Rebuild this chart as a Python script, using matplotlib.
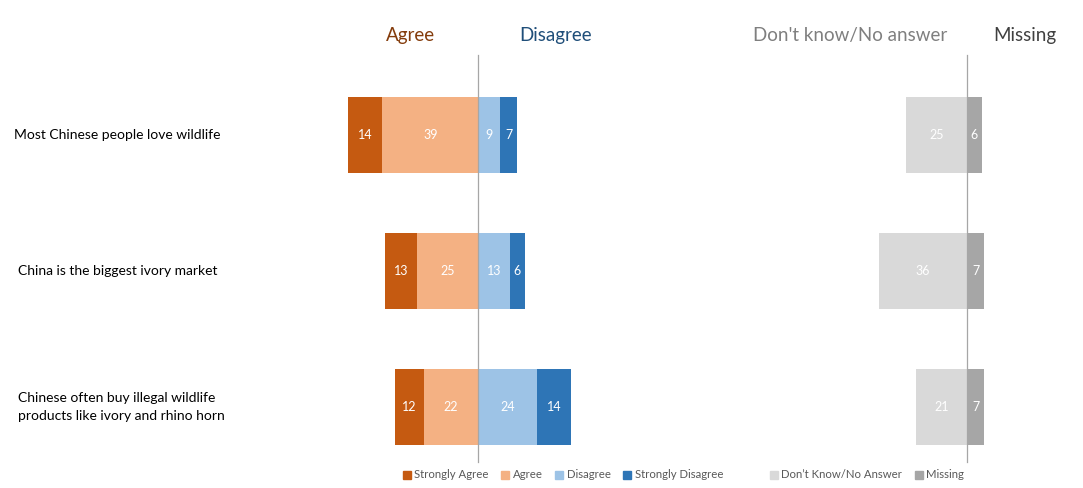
import numpy as np
import matplotlib.pyplot as plt
from matplotlib.patches import Patch

plt.rcParams['font.family'] = ['Lato', 'DejaVu Sans']

statements = ["Most Chinese people love wildlife",
              "China is the biggest ivory market",
              "Chinese often buy illegal wildlife\nproducts like ivory and rhino horn"]
strongly_agree = [14, 13, 12]
agree = [39, 25, 22]
disagree = [9, 13, 24]
strongly_disagree = [7, 6, 14]
dont_know = [25, 36, 21]
missing = [6, 7, 7]

c_sa = '#C55A11'
c_a = '#F4B183'
c_d = '#9DC3E6'
c_sd = '#2E75B6'
c_dk = '#D9D9D9'
c_m = '#A6A6A6'

px = 2.45            # pixels per unit
offset = (967 - 478) / px   # centre of the second block

fig = plt.figure(figsize=(10.83, 4.88), dpi=100)
ax = fig.add_axes([0, 0, 1, 1])
ax.set_xlim(-478 / px, (1083 - 478) / px)
ax.set_ylim((488 - 135) / 136, -135 / 136)
ax.axis('off')

y = np.arange(len(statements))
h = 0.56
sa = np.array(strongly_agree)
a = np.array(agree)
d = np.array(disagree)
sd = np.array(strongly_disagree)
dk = np.array(dont_know)
m = np.array(missing)

ax.barh(y, -a, height=h, color=c_a, zorder=2)
ax.barh(y, -sa, left=-a, height=h, color=c_sa, zorder=2)
ax.barh(y, d, height=h, color=c_d, zorder=2)
ax.barh(y, sd, left=d, height=h, color=c_sd, zorder=2)
ax.barh(y, -dk, left=offset, height=h, color=c_dk, zorder=2)
ax.barh(y, m, left=offset, height=h, color=c_m, zorder=2)

for i in range(len(y)):
    ax.text(-a[i] - sa[i] / 2, y[i], str(sa[i]), color='white', ha='center', va='center', fontsize=9, zorder=3)
    ax.text(-a[i] / 2, y[i], str(a[i]), color='white', ha='center', va='center', fontsize=9, zorder=3)
    ax.text(d[i] / 2, y[i], str(d[i]), color='white', ha='center', va='center', fontsize=9, zorder=3)
    ax.text(d[i] + sd[i] / 2, y[i], str(sd[i]), color='white', ha='center', va='center', fontsize=9, zorder=3)
    ax.text(offset - dk[i] / 2, y[i], str(dk[i]), color='white', ha='center', va='center', fontsize=9, zorder=3)
    ax.text(offset + m[i] / 2, y[i], str(m[i]), color='white', ha='center', va='center', fontsize=9, zorder=3)

# row labels
label_x = [14, 18, 18]
for i, s in enumerate(statements):
    ax.text(label_x[i] / px - 478 / px, y[i], s, ha='left', va='center', fontsize=10,
            color='#000000', linespacing=1.5)

# centre lines
for xc in [0, offset]:
    ax.plot([xc, xc], [(55 - 135) / 136, (462 - 135) / 136], color='#A6A6A6', lw=0.9, zorder=4)

# headers
hy = (35 - 135) / 136
ax.text((411 - 478) / px, hy, 'Agree', color='#843C0C', ha='center', va='center', fontsize=13.5)
ax.text((556 - 478) / px, hy, 'Disagree', color='#1F4E79', ha='center', va='center', fontsize=13.5)
ax.text((850 - 967) / px + offset, hy, "Don't know/No answer", color='#7F7F7F', ha='center', va='center', fontsize=13.5)
ax.text((1025 - 967) / px + offset, hy, 'Missing', color='#404040', ha='center', va='center', fontsize=13.5)

# legends
h1 = [Patch(color=c_sa, label='Strongly Agree'), Patch(color=c_a, label='Agree'),
      Patch(color=c_d, label='Disagree'), Patch(color=c_sd, label='Strongly Disagree')]
h2 = [Patch(color=c_dk, label='Don\u2019t Know/No Answer'), Patch(color=c_m, label='Missing')]
fig.legend(handles=h1, loc='center left', bbox_to_anchor=(403 / 1083, 1 - 475 / 488), ncol=4,
           frameon=False, fontsize=8.2, handlelength=0.7, handleheight=0.7, handletextpad=0.3,
           columnspacing=1.1, labelcolor='#595959', borderaxespad=0, borderpad=0)
fig.legend(handles=h2, loc='center left', bbox_to_anchor=(770 / 1083, 1 - 475 / 488), ncol=2,
           frameon=False, fontsize=8.2, handlelength=0.7, handleheight=0.7, handletextpad=0.3,
           columnspacing=1.1, labelcolor='#595959', borderaxespad=0, borderpad=0)

fig.savefig('out.png', dpi=100)
